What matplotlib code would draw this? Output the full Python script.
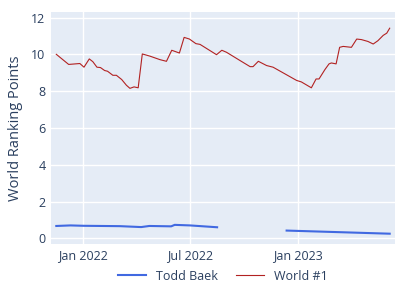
#!/usr/bin/env python3
"""
Todd Baek vs World #1 - world ranking points over time.
"""

import matplotlib
matplotlib.use('Agg')
import matplotlib.pyplot as plt
import matplotlib.dates as mdates
import numpy as np
import pandas as pd

OUTPUT_FILE = 'out.png'

# World #1 ranking points
world_dates = [
    '2021-11-16', '2021-12-07', '2021-12-26', '2022-01-02', '2022-01-11',
    '2022-01-17', '2022-01-24', '2022-01-30', '2022-02-06', '2022-02-11',
    '2022-02-20', '2022-02-26', '2022-03-07', '2022-03-15', '2022-03-21',
    '2022-03-28', '2022-04-04', '2022-04-11', '2022-04-24', '2022-05-11',
    '2022-05-22', '2022-05-31', '2022-06-13', '2022-06-21', '2022-06-30',
    '2022-07-11', '2022-07-18', '2022-08-15', '2022-08-24', '2022-09-01',
    '2022-09-24', '2022-10-11', '2022-10-16', '2022-10-25', '2022-11-08',
    '2022-11-19', '2022-12-29', '2023-01-06', '2023-01-23', '2023-01-31',
    '2023-02-05', '2023-02-15', '2023-02-22', '2023-02-26', '2023-03-06',
    '2023-03-12', '2023-03-18', '2023-04-01', '2023-04-10', '2023-04-18',
    '2023-04-29', '2023-05-08', '2023-05-16', '2023-05-25', '2023-05-31',
    '2023-06-05',
]
world_points = [
    10.00, 9.45, 9.50, 9.30, 9.75,
    9.60, 9.30, 9.28, 9.12, 9.08,
    8.86, 8.86, 8.63, 8.32, 8.15,
    8.23, 8.18, 10.02, 9.90, 9.71,
    9.62, 10.22, 10.07, 10.92, 10.83,
    10.58, 10.54, 9.98, 10.22, 10.11,
    9.66, 9.33, 9.33, 9.62, 9.39,
    9.30, 8.58, 8.50, 8.18, 8.66,
    8.66, 9.17, 9.48, 9.53, 9.48,
    10.38, 10.43, 10.38, 10.83, 10.80,
    10.70, 10.56, 10.74, 11.03, 11.15,
    11.42,
]

# Todd Baek ranking points (gap between Aug and Dec 2022)
todd_dates = [
    '2021-11-16', '2021-12-10', '2022-01-01', '2022-03-04', '2022-04-09',
    '2022-04-23', '2022-05-30', '2022-06-05', '2022-07-01', '2022-08-16',
    '2022-10-15',
    '2022-12-12', '2023-06-05',
]
todd_points = [
    0.67, 0.70, 0.68, 0.66, 0.61,
    0.67, 0.65, 0.73, 0.70, 0.60,
    np.nan,
    0.42, 0.25,
]

TEXT = '#2a3f5f'

plt.rcParams['font.family'] = ['Open Sans', 'DejaVu Sans']

fig = plt.figure(figsize=(4, 3), dpi=100)
ax = fig.add_axes([51 / 400, 1 - 244 / 300, 344 / 400, 232 / 300])
ax.set_facecolor('#E5ECF6')

ax.plot(pd.to_datetime(todd_dates), todd_points, color='royalblue',
        linewidth=1.5, label='Todd Baek')
ax.plot(pd.to_datetime(world_dates), world_points, color='firebrick',
        linewidth=0.8, label='World #1')

ax.set_xlim(pd.Timestamp('2021-11-07'), pd.Timestamp('2023-06-14'))
ax.set_ylim(-0.31, 12.3)
ax.set_yticks(range(0, 13, 2))
ax.xaxis.set_major_locator(mdates.MonthLocator(bymonth=[1, 7]))
ax.xaxis.set_major_formatter(mdates.DateFormatter('%b %Y'))

ax.grid(True, color='white', linewidth=1)
ax.set_axisbelow(True)
for s in ax.spines.values():
    s.set_visible(False)
ax.tick_params(length=0, labelsize=9, colors=TEXT, pad=4)
ax.set_ylabel('World Ranking Points', fontsize=10.5, color=TEXT, labelpad=6)

fig.legend(loc='center', bbox_to_anchor=(0.557, 0.08), ncol=2, frameon=False,
           fontsize=9, labelcolor=TEXT, handlelength=2.2, columnspacing=1.5)

plt.savefig(OUTPUT_FILE, dpi=100)
